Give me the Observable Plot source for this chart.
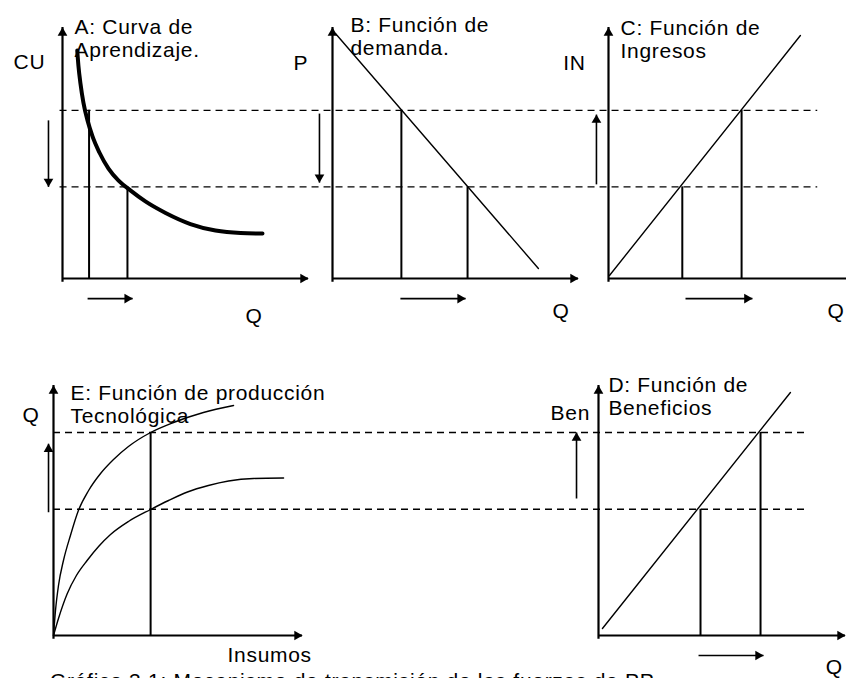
<!DOCTYPE html>
<html>
<head>
<meta charset="utf-8">
<script src="https://cdn.jsdelivr.net/npm/d3@7"></script>
<script src="https://cdn.jsdelivr.net/npm/@observablehq/plot@0.6"></script>
<style>
html, body { margin: 0; padding: 0; background: #fff; overflow: hidden; }
#wrap { position: relative; width: 846px; height: 678px; overflow: hidden; }
#caption { position: absolute; left: 50px; top: 669px; font: 21px 'Liberation Sans', Arial, sans-serif; letter-spacing: 0.7px; white-space: nowrap; color: #000; }
</style>
</head>
<body>
<div id="wrap"></div>
<script>
// ---------- DATA (in panel units 0..10) ----------
// Shared levels of the top row (CU / P / IN): upper and lower dashed lines
const levelsTop = [6.7, 3.65];
// Panel A: learning curve
const learningQ  = [0.60, 0.65, 0.73, 0.85, 1.02, 1.22, 1.50, 1.87, 2.28, 2.76, 3.37, 4.19, 5.20, 6.22, 7.24, 8.13];
const learningCU = [9.08, 8.45, 7.77, 7.01, 6.29, 5.66, 5.02, 4.38, 3.90, 3.51, 3.07, 2.61, 2.17, 1.91, 1.81, 1.79];
const quantitiesA = [1.08, 2.64];
// Panel B: demand function
const demandQ = [0.12, 8.37];
const demandP = [9.76, 0.40];
const quantitiesB = [2.8, 5.49];
// Panel C: revenue function
const revenueQ  = [0.04, 7.8];
const revenueIN = [0.12, 9.68];
const quantitiesC = [5.41, 3.0];
// Bottom row shared levels (Q produced / Ben): upper and lower dashed lines
const levelsBottom = [8.12, 5.05];
// Panel E: production functions (new technology above, old below)
const insumosHigh    = [0, 0.08, 0.20, 0.40, 0.68, 1.00, 1.41, 1.89, 2.41, 3.01, 3.90, 4.82, 6.02, 7.23];
const produccionHigh = [0, 1.0, 2.0, 3.0, 4.0, 5.0, 5.8, 6.48, 7.04, 7.56, 8.12, 8.52, 8.92, 9.2];
const insumosLow     = [0, 0.20, 0.55, 0.92, 1.35, 1.81, 2.29, 3.01, 3.90, 4.62, 5.38, 6.22, 7.03, 8.03, 9.24];
const produccionLow  = [0, 0.68, 1.67, 2.4, 3.0, 3.56, 4.04, 4.56, 5.04, 5.4, 5.74, 6.0, 6.18, 6.28, 6.3];
const insumosE = 3.9;
// Panel D: profit function
const profitQ   = [0.16, 7.77];
const profitBen = [0.28, 9.72];
const quantitiesD = [6.56, 4.13];

// ---------- TEXT ----------
const titles = {
  A: "A: Curva de\nAprendizaje.",
  B: "B: Función de\ndemanda.",
  C: "C: Función de\nIngresos",
  D: "D: Función de\nBeneficios",
  E: "E: Función de producción\nTecnológica"
};
const yNames = {A: "CU", B: "P", C: "IN", D: "Ben", E: "Q"};
const xNames = {A: "Q", B: "Q", C: "Q", D: "Q", E: "Insumos"};
const caption = "Gráfico 3.1: Mecanismo de transmisión de las fuerzas de PP";

// ---------- LAYOUT ----------
const layout = {
  A: {x: [62, 308], y: [278, 27]},
  B: {x: [332, 578], y: [278, 27]},
  C: {x: [608, 854], y: [278, 27]},
  E: {x: [53, 302], y: [635, 385]},
  D: {x: [598, 845], y: [635, 385]}
};
const font = {fontFamily: "'Liberation Sans', Arial, sans-serif", fontSize: 21, fill: "black"};
const dash = {strokeDasharray: "7,5", strokeWidth: 1.3, stroke: "black"};

function head(data, dir) {
  const rot = {up: 0, down: 180, right: 90}[dir];
  const off = 5.4;
  return Plot.dot(data, {
    x: "x2", y: "y2", symbol: "triangle", r: 3.6, rotate: rot,
    dx: dir === "right" ? -off : 0, dy: dir === "up" ? off : dir === "down" ? -off : 0,
    fill: "black", stroke: "none"
  });
}
function arrow(x1, y1, x2, y2, dir) {
  const d = [{x1, y1, x2, y2}];
  return [Plot.link(d, {x1: "x1", y1: "y1", x2: "x2", y2: "y2", stroke: "black", strokeWidth: 1.6}), head(d, dir)];
}
function axes() {
  return [
    Plot.ruleX([0], {y1: -0.15, y2: 10, stroke: "black", strokeWidth: 2.2}),
    Plot.ruleY([0], {x1: 0, x2: 10, stroke: "black", strokeWidth: 2.2}),
    head([{x2: 0, y2: 10}], "up"),
    head([{x2: 10, y2: 0}], "right")
  ];
}
function title(name, x, y) {
  return Plot.text([titles[name]], {x, y, text: d => d, textAnchor: "start", lineAnchor: "top", lineHeight: 1.1, ...font});
}
function label(t, x, y, anchor = "start") {
  return Plot.text([t], {x, y, text: d => d, textAnchor: anchor, lineAnchor: "top", ...font});
}
function verticals(qs, tops) {
  return Plot.ruleX(qs.map((q, i) => ({q, top: tops[i]})), {x: "q", y1: 0, y2: "top", stroke: "black", strokeWidth: 2});
}
function lineOf(xs, ys, opts = {}) {
  return Plot.line(xs.map((x, i) => ({x, y: ys[i]})), {x: "x", y: "y", stroke: "black", strokeWidth: 1.4, ...opts});
}
function panel(name, marks) {
  const L = layout[name];
  return Plot.plot({
    width: 846, height: 678,
    x: {domain: [0, 10], range: L.x, axis: null},
    y: {domain: [0, 10], range: L.y, axis: null},
    style: "position:absolute;left:0;top:0;background:transparent;overflow:visible;max-width:none;letter-spacing:0.7px;",
    marks
  });
}

const wrap = document.getElementById("wrap");

// Panel A
wrap.append(panel("A", [
  Plot.ruleY(levelsTop, {x1: -0.1, x2: 30.7, ...dash}),
  ...axes(),
  lineOf(learningQ, learningCU, {curve: "monotone-x", strokeWidth: 4}),
  verticals(quantitiesA, levelsTop),
  ...arrow(-0.57, levelsTop[0] - 0.4, -0.57, levelsTop[1], "down"),
  ...arrow(quantitiesA[0] - 0.06, -0.8, quantitiesA[1] + 0.21, -0.8, "right"),
  title("A", 0.49, 10.4),
  label(yNames.A, -1.99, 8.96),
  label(xNames.A, 7.44, -1.16)
]));

// Panel B
wrap.append(panel("B", [
  ...axes(),
  lineOf(demandQ, demandP),
  verticals(quantitiesB, levelsTop),
  ...arrow(-0.53, levelsTop[0] - 0.13, -0.53, levelsTop[1] + 0.17, "down"),
  ...arrow(quantitiesB[0] - 0.04, -0.8, quantitiesB[1] - 0.08, -0.8, "right"),
  title("B", 0.73, 10.48),
  label(yNames.B, -1.59, 8.9),
  label(xNames.B, 8.94, -0.96)
]));

// Panel C
wrap.append(panel("C", [
  ...axes(),
  lineOf(revenueQ, revenueIN),
  verticals(quantitiesC, levelsTop),
  ...arrow(-0.49, levelsTop[1] + 0.1, -0.49, levelsTop[0] - 0.17, "up"),
  ...arrow(quantitiesC[1] + 0.13, -0.8, quantitiesC[0] + 0.44, -0.8, "right"),
  title("C", 0.49, 10.36),
  label(yNames.C, -0.93, 8.9, "end"),
  label(xNames.C, 8.9, -0.96)
]));

// Panel E
wrap.append(panel("E", [
  Plot.ruleY(levelsBottom, {x1: 0, x2: 30.3, ...dash}),
  ...axes(),
  lineOf(insumosHigh, produccionHigh, {curve: "monotone-x"}),
  lineOf(insumosLow, produccionLow, {curve: "monotone-x"}),
  verticals([insumosE], [levelsBottom[0]]),
  ...arrow(-0.2, levelsBottom[1] - 0.12, -0.2, levelsBottom[0] - 0.45, "up"),
  title("E", 0.68, 10.08),
  label(yNames.E, -1.24, 9.12),
  label(xNames.E, 6.99, -0.48)
]));

// Panel D
wrap.append(panel("D", [
  ...axes(),
  lineOf(profitQ, profitBen),
  verticals(quantitiesD, levelsBottom),
  ...arrow(-0.89, levelsBottom[1] + 0.43, -0.89, levelsBottom[0], "up"),
  ...arrow(quantitiesD[1] - 0.08, -0.8, quantitiesD[0] + 0.12, -0.8, "right"),
  title("D", 0.4, 10.4),
  label(yNames.D, -1.94, 9.2),
  label(xNames.D, 9.2, -0.96)
]));

const cap = document.createElement("div");
cap.id = "caption";
cap.textContent = caption;
wrap.append(cap);
</script>
</body>
</html>
